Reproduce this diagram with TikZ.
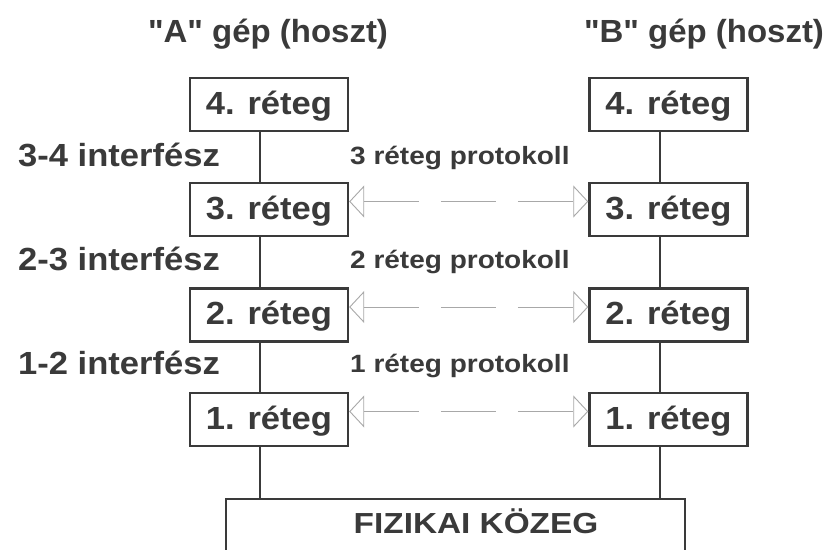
\documentclass[tikz,border=0pt]{standalone}
\usepackage{fontspec}
\setmainfont{Liberation Sans}
\newfontfamily\labfont{Liberation Sans}[FakeStretch=1.08]
\newfontfamily\headfont{Liberation Sans}[FakeStretch=1.03]
\newfontfamily\protofont{Liberation Sans}[FakeStretch=1.12]
\newfontfamily\mediumfont{Liberation Sans}[FakeStretch=1.15]
\usetikzlibrary{arrows.meta}
\definecolor{ink}{HTML}{3A3A3A}
\definecolor{dashgray}{HTML}{A8A8A8}
\newcommand\bigtext{\labfont\fontsize{32}{36}\selectfont\bfseries}
\newcommand\headtext{\headfont\fontsize{32}{36}\selectfont\bfseries}
\newcommand\prototext{\protofont\fontsize{25}{30}\selectfont\bfseries}
\newcommand\mediumtext{\mediumfont\fontsize{29}{33}\selectfont\bfseries}
\begin{document}
\begin{tikzpicture}[x=1pt,y=1pt,
  layerbox/.style={draw=ink, line width=2.4pt, minimum width=158pt,
    minimum height=53pt, inner sep=0pt, text height=23pt, text depth=3pt,
    font=\bigtext, text=ink},
  link/.style={draw=ink, line width=1.8pt},
  peer/.style={draw=dashgray, line width=0.9pt, dash pattern=on 55pt off 22pt,
    {Triangle[open,length=15pt,width=32pt]}-{Triangle[open,length=15pt,width=32pt]}},
  lbl/.style={anchor=base west, inner sep=0pt, text=ink},
  head/.style={anchor=base, inner sep=0pt, text=ink, font=\headtext}]
\useasboundingbox (0,0) rectangle (827,549);
\fill[white] (0,0) rectangle (827,549);

% host titles
\node[head] (ha) at (268,506) {"A" gép (hoszt)};
\node[head] (hb) at (704,506) {"B" gép (hoszt)};

% layer stacks
\node[layerbox] (a4) at (269,444.5) {4. réteg};
\node[layerbox] (a3) at (269,339.5) {3. réteg};
\node[layerbox] (a2) at (269,234)   {2. réteg};
\node[layerbox] (a1) at (269,129.5) {1. réteg};
\node[layerbox] (b4) at (668.5,444.5) {4. réteg};
\node[layerbox] (b3) at (668.5,339.5) {3. réteg};
\node[layerbox] (b2) at (668.5,234)   {2. réteg};
\node[layerbox] (b1) at (668.5,129.5) {1. réteg};

% physical medium
\node[draw=ink, line width=2.2pt, minimum width=459pt, minimum height=80pt,
  inner sep=0pt] (fk) at (455.5,10) {};
\node[anchor=base, inner sep=0pt, text=ink, font=\mediumtext] (fkt) at (476,16) {FIZIKAI KÖZEG};

% interface labels
\node[lbl, font=\bigtext] (i34) at (18,382) {3-4 interfész};
\node[lbl, font=\bigtext] (i23) at (18,278) {2-3 interfész};
\node[lbl, font=\bigtext] (i12) at (18,174) {1-2 interfész};

% protocol labels
\node[lbl, font=\prototext] (p3) at (350,384) {3 réteg protokoll};
\node[lbl, font=\prototext] (p2) at (350,280) {2 réteg protokoll};
\node[lbl, font=\prototext] (p1) at (350,176) {1 réteg protokoll};

% vertical interfaces, host A
\draw[link] ([xshift=-9pt]a4.south) -- ([xshift=-9pt]a3.north);
\draw[link] ([xshift=-9pt]a3.south) -- ([xshift=-9pt]a2.north);
\draw[link] ([xshift=-9pt]a2.south) -- ([xshift=-9pt]a1.north);
\draw[link] ([xshift=-9pt]a1.south) -- ([xshift=-9pt]a1.south |- fk.north);
% vertical interfaces, host B
\draw[link] ([xshift=-8.5pt]b4.south) -- ([xshift=-8.5pt]b3.north);
\draw[link] ([xshift=-8.5pt]b3.south) -- ([xshift=-8.5pt]b2.north);
\draw[link] ([xshift=-8.5pt]b2.south) -- ([xshift=-8.5pt]b1.north);
\draw[link] ([xshift=-8.5pt]b1.south) -- ([xshift=-8.5pt]b1.south |- fk.north);

% peer protocols
\draw[peer] ([yshift=8pt]a3.east) -- ([yshift=8pt]b3.west);
\draw[peer] ([yshift=8pt]a2.east) -- ([yshift=8pt]b2.west);
\draw[peer] ([yshift=8pt]a1.east) -- ([yshift=8pt]b1.west);
\end{tikzpicture}
\end{document}
